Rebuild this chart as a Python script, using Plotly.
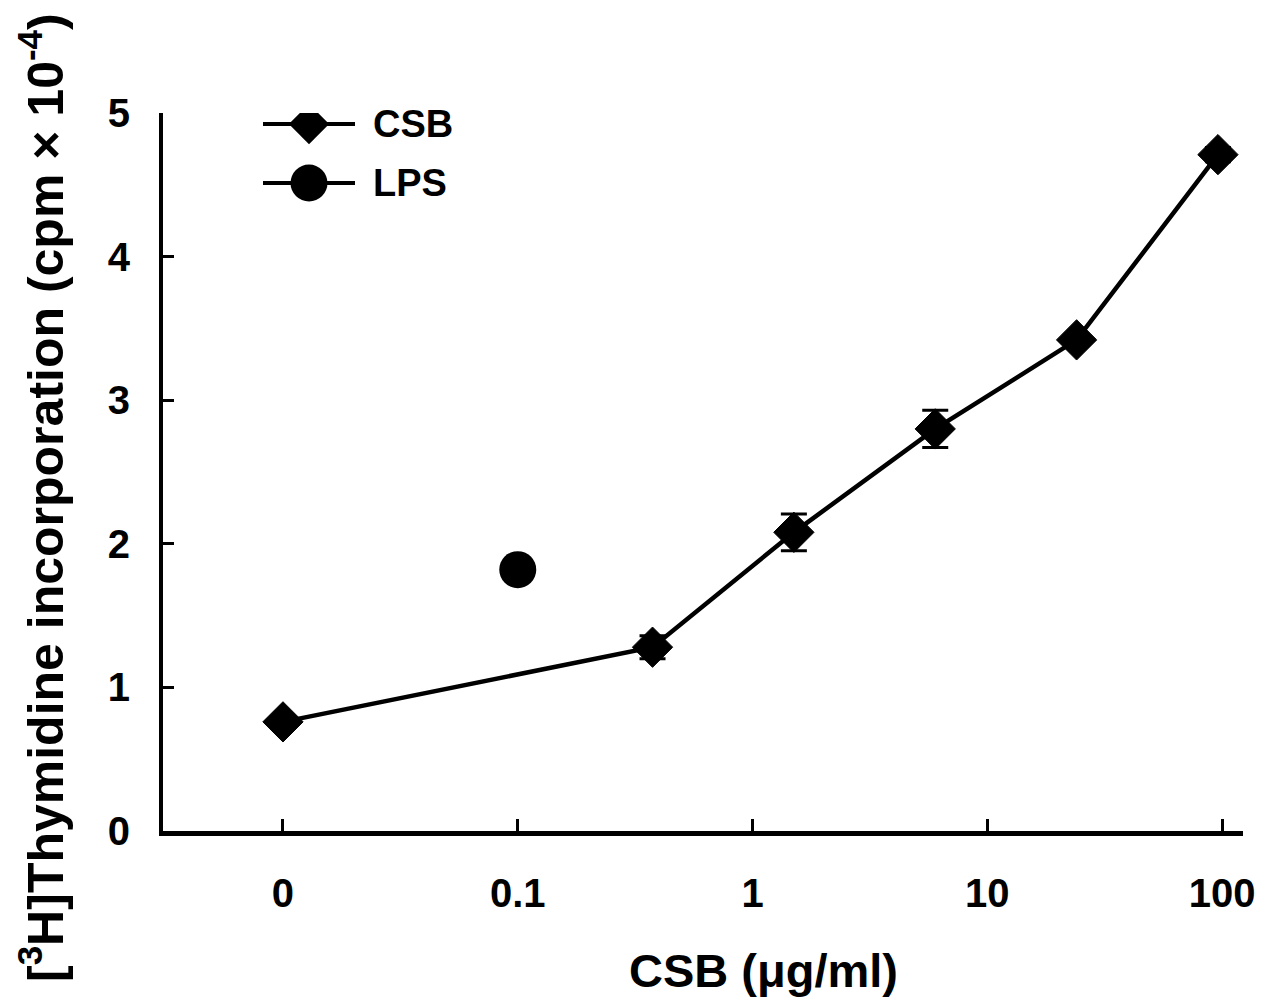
import plotly.graph_objects as go

# ---- data ----
csb_dose = [0, 0.375, 1.5, 6, 24, 96]          # µg/ml
csb_cpm = [0.76, 1.28, 2.08, 2.80, 3.42, 4.71]  # cpm x 10^-4
csb_err = [0.0, 0.08, 0.128, 0.13, 0.02, 0.05]

lps_position = [0.1]      # LPS point drawn at the "0.1" position
lps_cpm = [1.82]

zero_position = 0.01      # where the "0" dose sits on the log axis
tick_vals = [0.01, 0.1, 1, 10, 100]
tick_text = ["0", "0.1", "1", "10", "100"]
y_ticks = [0, 1, 2, 3, 4, 5]

FONT = "Liberation Sans, Arial, sans-serif"

csb_x = [d if d > 0 else zero_position for d in csb_dose]

fig = go.Figure()

fig.add_trace(go.Scatter(
    x=csb_x, y=csb_cpm, mode="lines+markers", name="CSB",
    line=dict(color="black", width=4.5),
    marker=dict(symbol="diamond", size=31, color="black", line=dict(color="black", width=1)),
    error_y=dict(type="data", array=csb_err, visible=True, color="black", thickness=3, width=13),
    showlegend=False,
))
fig.add_trace(go.Scatter(
    x=lps_position, y=lps_cpm, mode="markers", name="LPS",
    marker=dict(symbol="circle", size=37, color="black"),
    showlegend=False,
))

# ---- custom legend drawn on an overlay axis in pixel-like units ----
leg_names = ["CSB", "LPS"]
leg_symbols = ["diamond", "circle"]
leg_sizes = [31, 37]
leg_y = [124, 183]
for name, sym, sz, yy in zip(leg_names, leg_symbols, leg_sizes, leg_y):
    fig.add_trace(go.Scatter(
        x=[263, 355], y=[yy, yy], mode="lines", xaxis="x2", yaxis="y2",
        line=dict(color="black", width=4), showlegend=False, hoverinfo="skip"))
    fig.add_trace(go.Scatter(
        x=[309], y=[yy], mode="markers", xaxis="x2", yaxis="y2",
        marker=dict(symbol=sym, size=sz, color="black"), showlegend=False, hoverinfo="skip"))
    fig.add_annotation(x=371, y=yy, xref="x2", yref="y2", text=name, showarrow=False,
                       xanchor="left", yanchor="middle",
                       font=dict(family=FONT, size=38, color="black", weight="bold"))

fig.update_layout(
    width=1258, height=997,
    margin=dict(l=155, r=23, t=105, b=174),
    paper_bgcolor="white", plot_bgcolor="white",
    font=dict(family=FONT, color="black"),
    xaxis=dict(
        type="log", range=[-2.511, 2.089],
        tickvals=tick_vals, ticktext=tick_text,
        ticks="inside", ticklen=12, tickwidth=3, tickcolor="black",
        showline=True, linewidth=5, linecolor="black",
        showgrid=False, zeroline=False,
        tickfont=dict(family=FONT, size=40, color="black", weight="bold"),
        ticklabelstandoff=23,
    ),
    yaxis=dict(
        range=[0, 5], tickvals=y_ticks,
        ticks="inside", ticklen=11, tickwidth=3, tickcolor="black",
        showline=True, linewidth=4, linecolor="black",
        showgrid=False, zeroline=False,
        tickfont=dict(family=FONT, size=40, color="black", weight="bold"),
        ticklabelstandoff=21,
    ),
    xaxis2=dict(domain=[0, 1], range=[163, 1243], overlaying="x", visible=False),
    yaxis2=dict(range=[831, 113], overlaying="y", visible=False),
)

fig.add_annotation(
    x=(763 - 163) / 1080, y=(831 - 970) / 718, xref="paper", yref="paper",
    text="CSB (μg/ml)", showarrow=False, xanchor="center", yanchor="middle",
    font=dict(family=FONT, size=47, color="black", weight="bold"))

fig.add_annotation(
    x=(42 - 163) / 1080, y=(831 - 498) / 718, xref="paper", yref="paper",
    text="[<sup>3</sup>H]Thymidine incorporation (cpm × 10<sup>-4</sup>)",
    textangle=-90, showarrow=False, xanchor="center", yanchor="middle",
    font=dict(family=FONT, size=50, color="black", weight="bold"))

fig.write_html("out.html")
